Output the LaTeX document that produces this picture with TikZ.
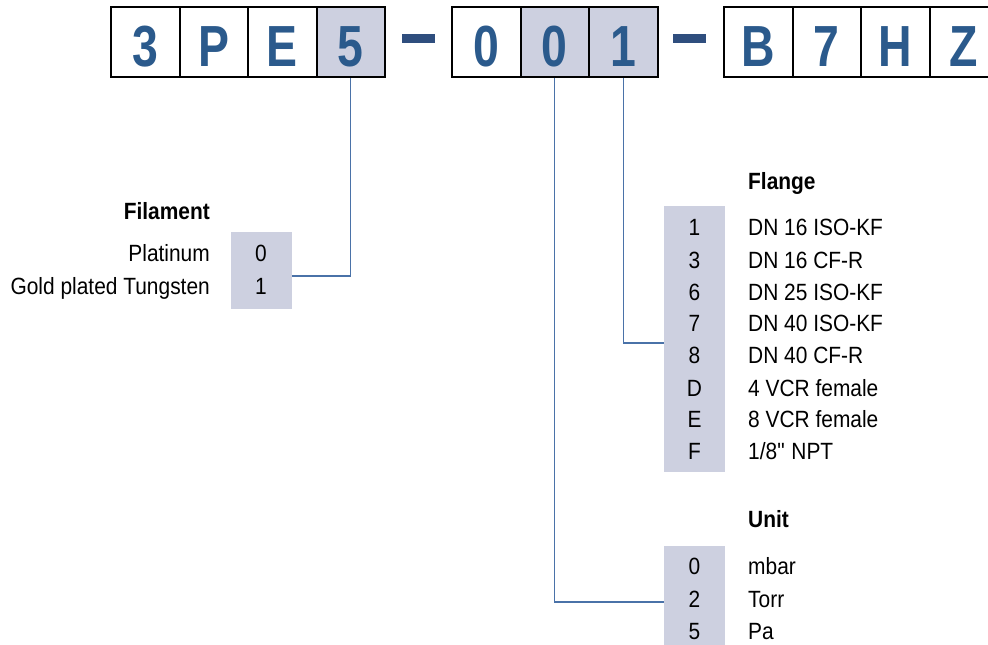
\documentclass[tikz,border=0pt]{standalone}
\usepackage{fontspec}
\setmainfont[FakeStretch=0.89]{Liberation Sans}
\newfontfamily\codefont[FakeStretch=0.8]{Liberation Sans}
\usetikzlibrary{positioning}

\definecolor{codeblue}{HTML}{2B5A8C}
\definecolor{dashblue}{HTML}{2F4E7E}
\definecolor{shade}{HTML}{CDD0E0}
\definecolor{wireblue}{HTML}{4A72A8}

\tikzset{
	codebox/.style={draw=black, line width=2pt, minimum width=68.5pt, minimum height=70pt, inner sep=0pt},
	codechar/.style={font=\codefont\fontsize{58}{60}\selectfont\bfseries, text=codeblue, inner sep=0pt, text height=41.5pt, text depth=0pt},
	dashbar/.style={fill=dashblue, minimum width=33pt, minimum height=9pt, inner sep=0pt},
	optcol/.style={fill=shade, minimum width=61pt, inner sep=0pt},
	txt/.style={font=\fontsize{23.5}{28}\selectfont, inner sep=0pt, text height=16.8pt, text depth=0pt},
	head/.style={txt, font=\fontsize{23.5}{28}\selectfont\bfseries},
	wire/.style={draw=wireblue, line width=1.3pt}
}

\begin{document}
\begin{tikzpicture}[x=1pt, y=-1pt]
	\clip (0,0) rectangle (988,645);
	% code boxes
	\foreach \nm/\ch/\xx/\fl in {b1/3/111/white, b2/P/179.5/white, b3/E/248/white, b4/5/316.5/shade,
		b5/0/452/white, b6/0/520.5/shade, b7/1/589/shade,
		b8/B/724/white, b9/7/792.5/white, b10/H/861/white, b11/Z/929.5/white}{
		\node[codebox, fill=\fl] (\nm) at (\xx+34.25,42) {};
		\node[codechar] at ([yshift=-4pt]\nm.center) {\ch};
	}
	\node[dashbar] (d1) at (418.5,38) {};
	\node[dashbar] (d2) at (689.5,38) {};

	% filament
	\node[optcol, minimum height=77pt] (fil) at (261,270.5) {};
	\node[head, anchor=east] (filhead) at (210,211) {Filament};
	\node[txt] (fil0) at (261,253) {0};
	\node[txt] (fil1) at (261,286) {1};
	\node[txt, anchor=east] (fil0t) at (210,253) {Platinum};
	\node[txt, anchor=east] (fil1t) at (210,286) {Gold plated Tungsten};
	\draw[wire] (b4.south) |- ([yshift=-5.5pt]fil.east);

	% flange
	\node[optcol, minimum height=266pt] (flg) at (694.5,339) {};
	\node[head, anchor=west] (flghead) at (748,181) {Flange};
	\foreach \nm/\ch/\lbl/\yy in {f1/1/{DN 16 ISO-KF}/227, f3/3/{DN 16 CF-R}/260, f6/6/{DN 25 ISO-KF}/292,
		f7/7/{DN 40 ISO-KF}/323, f8/8/{DN 40 CF-R}/355, fD/D/{4 VCR female}/388,
		fE/E/{8 VCR female}/419, fF/F/{1/8\textquotedbl{} NPT}/451}{
		\node[txt] (\nm) at (694.5,\yy) {\ch};
		\node[txt, anchor=west] (\nm t) at (748,\yy) {\lbl};
	}
	\draw[wire] (b7.south) |- ([yshift=-4pt]flg.west);

	% unit
	\node[optcol, minimum height=104pt] (unt) at (694.5,598) {};
	\node[head, anchor=west] (unthead) at (748,519) {Unit};
	\foreach \nm/\ch/\lbl/\yy in {u0/0/mbar/566, u2/2/Torr/599, u5/5/Pa/631}{
		\node[txt] (\nm) at (694.5,\yy) {\ch};
		\node[txt, anchor=west] (\nm t) at (748,\yy) {\lbl};
	}
	\draw[wire] (b6.south) |- ([yshift=-4pt]unt.west);
\end{tikzpicture}
\end{document}
